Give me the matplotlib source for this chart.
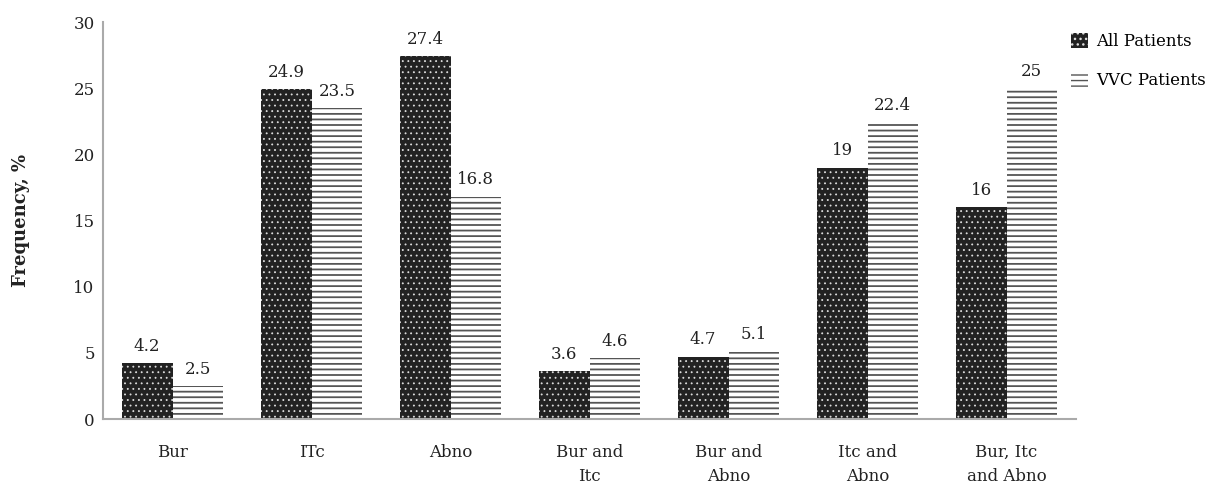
import matplotlib.pyplot as plt
import numpy as np

plt.rcParams['font.family'] = ['DejaVu Serif']

categories = ["Bur", "ITc", "Abno", "Bur and\nItc", "Bur and\nAbno",
              "Itc and\nAbno", "Bur, Itc\nand Abno"]
all_patients = [4.2, 24.9, 27.4, 3.6, 4.7, 19, 16]
vvc_patients = [2.5, 23.5, 16.8, 4.6, 5.1, 22.4, 25]
# numbers printed above the bars (as in the figure)
all_labels = ["4.2", "24.9", "27.4", "3.6", "4.7", "19", "16"]
vvc_labels = ["2.5", "23.5", "16.8", "4.6", "5.1", "22.4", "25"]

W, H = 1216, 486
fig = plt.figure(figsize=(W / 100, H / 100), dpi=100)
ax = fig.add_axes([103 / W, 1 - 419 / H, 973 / W, 397 / H])

x = np.arange(len(categories))
w = 0.365
txt = "#222222"
fs = 12

# dotted bars: thin hatch so the dots stay small
with plt.rc_context({"hatch.linewidth": 0.6}):
    ax.bar(x - w / 2, all_patients, w, color="#222222", edgecolor="#dddddd",
           hatch="...", linewidth=0, label="All Patients")
with plt.rc_context({"hatch.linewidth": 1.3}):
    ax.bar(x + w / 2, vvc_patients, w, color="white", edgecolor="#555555",
           hatch="---", linewidth=0, label="VVC Patients")

for xi, v, t in zip(x - w / 2, all_patients, all_labels):
    ax.annotate(t, (xi, v), xytext=(0, 6), textcoords="offset points",
                ha="center", va="bottom", fontsize=fs, color=txt)
for xi, v, t in zip(x + w / 2, vvc_patients, vvc_labels):
    ax.annotate(t, (xi, v), xytext=(0, 6), textcoords="offset points",
                ha="center", va="bottom", fontsize=fs, color=txt)

ax.set_xlim(-0.5, 6.5)
ax.set_ylim(0, 30)
ax.set_yticks([0, 5, 10, 15, 20, 25, 30])
ax.set_xticks(x)
ax.set_xticklabels(categories, fontsize=fs, color=txt, linespacing=1.55)
ax.tick_params(axis="both", length=0, labelsize=fs, colors=txt)
ax.tick_params(axis="x", pad=18)
ax.tick_params(axis="y", pad=6)

for s in ["top", "right"]:
    ax.spines[s].set_visible(False)
for s in ["left", "bottom"]:
    ax.spines[s].set_color("#aaaaaa")
    ax.spines[s].set_linewidth(1.5)

ax.set_ylabel("Frequency, %", fontsize=13, fontweight="bold", color=txt)
ax.yaxis.set_label_coords(-0.075, 0.5)

fig.legend(loc="upper left", bbox_to_anchor=(1066 / W, 1 - 28 / H), frameon=False,
           fontsize=fs, handlelength=1.0, handleheight=1.0, handletextpad=0.5,
           labelspacing=1.3, borderaxespad=0, borderpad=0.3)

plt.savefig("out.png", dpi=100)
plt.close()
